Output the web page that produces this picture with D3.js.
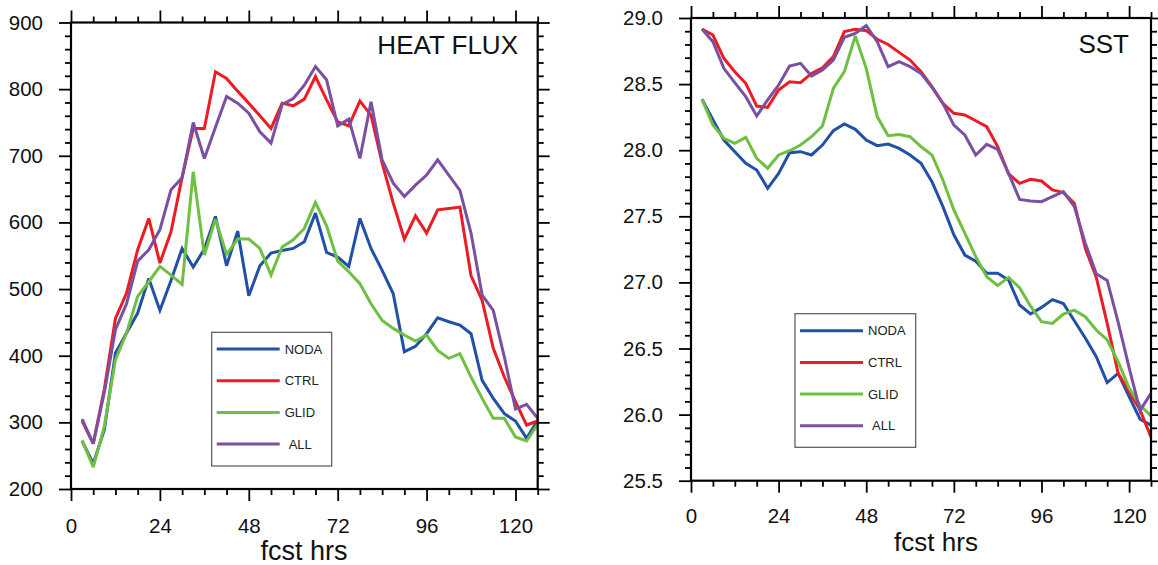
<!DOCTYPE html>
<html><head><meta charset="utf-8">
<script src="https://cdn.jsdelivr.net/npm/d3@7"></script>
<style>
body{margin:0;background:#fff}
svg{display:block}
text{font-family:"Liberation Sans",Arial,Helvetica,sans-serif}
</style>
</head><body>
<svg id="chart" width="1158" height="565"></svg>
<script>
// ---------- data ----------
const hours = [3,6,9,12,15,18,21,24,27,30,33,36,39,42,45,48,51,54,57,60,63,66,69,72,75,78,81,84,87,90,93,96,99,102,105,108,111,114,117,120,123,126];
const seriesNames = ["NODA","CTRL","GLID","ALL"];
const seriesColors = ["#2150a6","#ec1c24","#6fbf43","#7a50a2"];

const fluxNODA = [272,238,289,404,434,464,516,468,513,561,533,560,609,535,587,490,535,554,558,561,571,614,555,548,534,606,561,528,493,406,414,433,457,451,446,433,363,336,313,302,276,303];
const fluxCTRL = [302,268,350,456,494,559,606,539,586,668,741,741,826,816,797,779,760,741,779,775,785,819,784,751,745,782,761,689,629,575,610,584,619,621,623,520,483,411,368,331,296,302];
const fluxGLID = [273,233,294,394,434,489,511,534,521,507,676,551,605,552,575,575,561,521,563,574,591,630,595,542,526,508,478,453,441,431,422,431,408,396,403,368,336,306,306,278,272,297];
const fluxALL  = [305,268,345,439,478,542,559,589,649,667,750,696,743,789,779,764,736,719,777,786,806,834,814,745,755,696,781,694,659,639,656,671,694,671,648,584,491,468,398,320,327,306];

const sstNODA = [28.385,28.23,28.077,27.989,27.901,27.85,27.712,27.825,27.981,27.989,27.964,28.039,28.148,28.198,28.158,28.077,28.034,28.047,28.014,27.964,27.901,27.762,27.573,27.36,27.207,27.16,27.07,27.07,27.018,26.829,26.761,26.811,26.87,26.84,26.71,26.58,26.438,26.242,26.312,26.136,25.965,25.92];
const sstCTRL = [28.917,28.871,28.695,28.594,28.506,28.334,28.324,28.455,28.518,28.511,28.581,28.624,28.708,28.897,28.914,28.904,28.839,28.80,28.74,28.682,28.594,28.481,28.354,28.279,28.266,28.223,28.178,28.027,27.82,27.749,27.78,27.767,27.699,27.679,27.598,27.258,27.04,26.69,26.312,26.174,26.035,25.83];
const sstGLID = [28.385,28.191,28.09,28.052,28.097,27.939,27.863,27.964,27.996,28.039,28.102,28.183,28.468,28.594,28.864,28.619,28.254,28.11,28.118,28.102,28.027,27.964,27.775,27.548,27.372,27.195,27.043,26.975,27.038,26.96,26.82,26.703,26.69,26.76,26.79,26.74,26.64,26.565,26.40,26.20,26.07,25.99];
const sstALL  = [28.917,28.821,28.619,28.511,28.405,28.259,28.38,28.493,28.637,28.657,28.561,28.607,28.682,28.854,28.884,28.942,28.821,28.632,28.67,28.632,28.581,28.476,28.354,28.19,28.115,27.964,28.044,28.007,27.825,27.628,27.616,27.611,27.649,27.686,27.573,27.296,27.066,27.015,26.70,26.355,26.03,26.161];

const xTickLabels = [0,24,48,72,96,120];
const fluxTickLabels = [200,300,400,500,600,700,800,900];
const sstTickLabels = [25.5,26.0,26.5,27.0,27.5,28.0,28.5,29.0];

const titles = ["HEAT FLUX","SST"];
const xAxisTitle = "fcst hrs";

// ---------- drawing ----------
const svg = d3.select("#chart");
const FONT = '"Liberation Sans",Arial,Helvetica,sans-serif';

function panel(cfg){
  const g = svg.append("g");
  const x = d3.scaleLinear().domain([0,126]).range([cfg.left,cfg.right]);
  const y = d3.scaleLinear().domain(cfg.yDomain).range([cfg.bottom,cfg.top]);
  const xMinor = d3.range(0,127,6).filter(v=>v%24!==0);
  const yMinor = cfg.yMinor;

  // lines
  const line = d3.line().x((d,i)=>x(hours[i])).y(d=>y(d));
  cfg.series.forEach((s,k)=>{
    g.append("path").datum(s)
      .attr("d",line).attr("fill","none")
      .attr("stroke",seriesColors[k]).attr("stroke-width",3)
      .attr("stroke-linejoin","miter").attr("stroke-miterlimit",3);
  });

  function styleAxis(sel){
    sel.select(".domain").remove();
    sel.selectAll(".tick line").attr("stroke","#000").attr("stroke-width",1.8);
    sel.attr("font-family",FONT).attr("font-size",20.5);
    sel.selectAll("text").attr("fill","#111");
  }
  // bottom
  g.append("g").attr("transform",`translate(0,${cfg.bottom})`)
    .call(d3.axisBottom(x).tickValues(xTickLabels).tickSize(12).tickSizeOuter(0).tickPadding(cfg.xPad).tickFormat(d3.format("d"))).call(styleAxis);
  g.append("g").attr("transform",`translate(0,${cfg.bottom})`)
    .call(d3.axisBottom(x).tickValues(xMinor).tickSize(6).tickSizeOuter(0).tickFormat("")).call(styleAxis);
  // top
  g.append("g").attr("transform",`translate(0,${cfg.top})`)
    .call(d3.axisTop(x).tickValues(xTickLabels).tickSize(12).tickSizeOuter(0).tickFormat("")).call(styleAxis);
  g.append("g").attr("transform",`translate(0,${cfg.top})`)
    .call(d3.axisTop(x).tickValues(xMinor).tickSize(6).tickSizeOuter(0).tickFormat("")).call(styleAxis);
  // left
  g.append("g").attr("transform",`translate(${cfg.left},0)`)
    .call(d3.axisLeft(y).tickValues(cfg.yTicks).tickSize(12).tickSizeOuter(0).tickPadding(16).tickFormat(cfg.fmt)).call(styleAxis);
  g.append("g").attr("transform",`translate(${cfg.left},0)`)
    .call(d3.axisLeft(y).tickValues(yMinor).tickSize(6).tickSizeOuter(0).tickFormat("")).call(styleAxis);
  // right
  g.append("g").attr("transform",`translate(${cfg.right},0)`)
    .call(d3.axisRight(y).tickValues(cfg.yTicks).tickSize(12).tickSizeOuter(0).tickFormat("")).call(styleAxis);
  g.append("g").attr("transform",`translate(${cfg.right},0)`)
    .call(d3.axisRight(y).tickValues(yMinor).tickSize(6).tickSizeOuter(0).tickFormat("")).call(styleAxis);

  // frame
  g.append("rect").attr("x",cfg.left).attr("y",cfg.top)
    .attr("width",cfg.right-cfg.left).attr("height",cfg.bottom-cfg.top)
    .attr("fill","none").attr("stroke","#000").attr("stroke-width",2.2);

  // title
  g.append("text").attr("x",cfg.titleX).attr("y",cfg.titleY)
    .attr("text-anchor","end").attr("font-size",26).attr("fill","#111").text(cfg.title);

  // x axis label
  g.append("text").attr("x",cfg.xLabelX).attr("y",cfg.xLabelY)
    .attr("text-anchor","middle").attr("font-size",cfg.xLabelSize).attr("fill","#111").text(xAxisTitle);

  // legend
  const L = cfg.legend;
  const lg = g.append("g");
  lg.append("rect").attr("x",L.x).attr("y",L.y).attr("width",L.w).attr("height",L.h)
    .attr("fill","#fff").attr("stroke","#555").attr("stroke-width",1.2);
  seriesNames.forEach((name,k)=>{
    const yy = L.firstY + k*L.step;
    lg.append("line").attr("x1",L.x+5).attr("x2",L.x+68).attr("y1",yy).attr("y2",yy)
      .attr("stroke",seriesColors[k]).attr("stroke-width",3);
    lg.append("text").attr("x",L.x+73+(name==="ALL"?4:0)).attr("y",yy)
      .attr("dy","0.35em").attr("font-size",13).attr("fill","#222").text(name);
  });
}

panel({
  left:71, right:537.7, top:22.5, bottom:489,
  yDomain:[200,900], yTicks:fluxTickLabels, yMinor:d3.range(200,901,20).filter(v=>v%100!==0),
  fmt:d3.format("d"), xPad:17.4,
  series:[fluxNODA,fluxCTRL,fluxGLID,fluxALL],
  title:titles[0], titleX:518, titleY:54,
  xLabelX:304, xLabelY:560, xLabelSize:27,
  legend:{x:211.7,y:332.3,w:120,h:133.7,firstY:349,step:31.7}
});

panel({
  left:691, right:1151, top:18, bottom:480.7,
  yDomain:[25.5,29.0], yTicks:sstTickLabels, yMinor:d3.range(255,291,1).filter(v=>v%5!==0).map(v=>v/10),
  fmt:d3.format(".1f"), xPad:15.8,
  series:[sstNODA,sstCTRL,sstGLID,sstALL],
  title:titles[1], titleX:1129, titleY:53,
  xLabelX:936, xLabelY:551, xLabelSize:26,
  legend:{x:795,y:313.7,w:120.7,h:133.6,firstY:330.7,step:31.7}
});
</script>
</body></html>
